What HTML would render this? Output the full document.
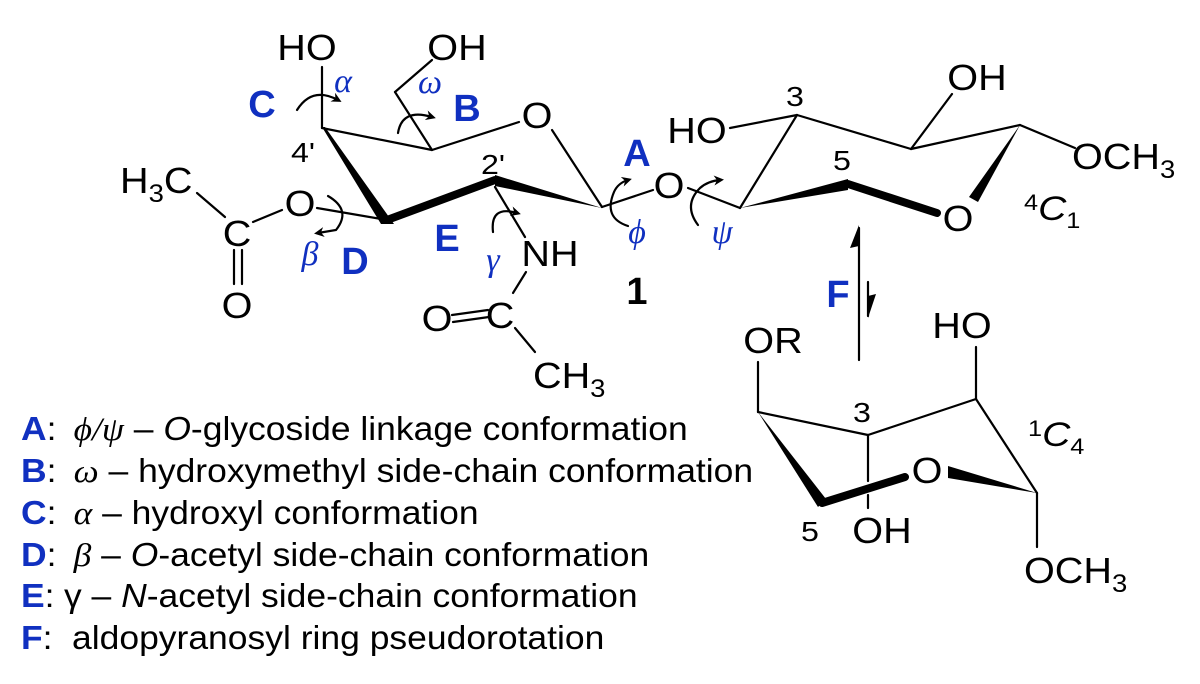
<!DOCTYPE html>
<html><head><meta charset="utf-8"><style>
html,body{margin:0;padding:0;background:#fff;}
svg{display:block;}
text{font-family:"Liberation Sans",sans-serif;fill:#000;}
.b{fill:#1030c0;font-weight:bold;}
.g{fill:#1030c0;font-family:"Liberation Serif",serif;font-style:italic;}
</style></head><body>
<svg width="1200" height="684" viewBox="0 0 1200 684" xmlns="http://www.w3.org/2000/svg">
<defs>
<marker id="ah" markerWidth="10" markerHeight="10" refX="6" refY="5" orient="auto" markerUnits="userSpaceOnUse">
<path d="M0,0 L10,5 L0,10 L3,5 Z" fill="#000"/></marker>
</defs>
<g stroke="#000" stroke-width="2.2" fill="none" stroke-linecap="round">
<line x1="322" y1="128" x2="322" y2="67"/>
<line x1="322" y1="128" x2="432" y2="150"/>
<line x1="432" y1="150" x2="519" y2="122"/>
<line x1="432" y1="150" x2="395" y2="92"/>
<line x1="395" y1="92" x2="432" y2="60"/>
<line x1="552" y1="130" x2="602" y2="207"/>
<line x1="387" y1="220" x2="317" y2="208"/>
<line x1="282" y1="210" x2="253" y2="222"/>
<line x1="197" y1="193" x2="225" y2="217"/>
<line x1="234" y1="250" x2="234" y2="284"/>
<line x1="242" y1="250" x2="242" y2="284"/>
<line x1="495" y1="187" x2="525" y2="237"/>
<line x1="526" y1="272" x2="513" y2="293"/>
<line x1="452" y1="315" x2="488" y2="310"/>
<line x1="453" y1="322" x2="489" y2="317"/>
<line x1="515" y1="328" x2="535" y2="352"/>
<line x1="602" y1="207" x2="653" y2="190"/>
<line x1="688" y1="188" x2="740" y2="208"/>
<line x1="740" y1="208" x2="797" y2="115"/>
<line x1="730" y1="128" x2="797" y2="115"/>
<line x1="797" y1="115" x2="911" y2="149"/>
<line x1="911" y1="149" x2="952" y2="94"/>
<line x1="911" y1="149" x2="1020" y2="125"/>
<line x1="1020" y1="125" x2="1075" y2="148"/>
<line x1="859" y1="228" x2="859" y2="360"/>
<line x1="868" y1="282" x2="868" y2="316"/>
<line x1="758" y1="412" x2="758" y2="362"/>
<line x1="758" y1="412" x2="868" y2="435"/>
<line x1="868" y1="435" x2="976" y2="399"/>
<line x1="976" y1="399" x2="976" y2="347"/>
<line x1="976" y1="399" x2="1037" y2="493"/>
<line x1="1037" y1="493" x2="1037" y2="547"/>
<line x1="868" y1="435" x2="868" y2="481"/>
<line x1="868" y1="495" x2="868" y2="508"/>
<path d="M297,110 Q312,86 338,100" marker-end="url(#ah)"/>
<path d="M398,133 Q402,108 432,117" marker-end="url(#ah)"/>
<path d="M328,196 Q352,210 336,230 L318,233" marker-end="url(#ah)"/>
<path d="M493,232 Q490,205 517,213" marker-end="url(#ah)"/>
<path d="M628,226 Q603,218 614,192 Q618,183 628,180" marker-end="url(#ah)"/>
<path d="M698,225 Q683,205 700,188 Q708,181 720,180" marker-end="url(#ah)"/>
</g>
<g fill="#000">
<polygon points="322,127 325,127 394,224 381,224"/>
<line x1="387" y1="220" x2="495" y2="180" stroke="#000" stroke-width="8" stroke-linecap="round"/>
<polygon points="495,175 495,186 602,208"/>
<polygon points="740,208 848,179 848,190"/>
<line x1="848" y1="184" x2="937" y2="213" stroke="#000" stroke-width="8" stroke-linecap="round"/>
<polygon points="1020,125 969,197 978,202"/>
<polygon points="758,412 818,507 826,499"/>
<line x1="822" y1="503" x2="905" y2="477" stroke="#000" stroke-width="8" stroke-linecap="round"/>
<polygon points="948,466 948,478 1037,493"/>
<polygon points="859,225 859,246 850,248"/>
<polygon points="868,318 868,296 876,294"/>
</g>
<g font-size="36">
<text transform="translate(307,60) scale(1.1,1)" text-anchor="middle">HO</text>
<text transform="translate(457,60) scale(1.1,1)" text-anchor="middle">OH</text>
<text transform="translate(537,128) scale(1.1,1)" text-anchor="middle">O</text>
<text transform="translate(300,216) scale(1.1,1)" text-anchor="middle">O</text>
<text transform="translate(237,246) scale(1.1,1)" text-anchor="middle">C</text>
<text transform="translate(237,318) scale(1.1,1)" text-anchor="middle">O</text>
<text transform="translate(120,193) scale(1.1,1)">H<tspan font-size="25" dy="9">3</tspan><tspan dy="-9">C</tspan></text>
<text transform="translate(550,266) scale(1.1,1)" text-anchor="middle">NH</text>
<text transform="translate(500,328) scale(1.1,1)" text-anchor="middle">C</text>
<text transform="translate(437,331) scale(1.1,1)" text-anchor="middle">O</text>
<text transform="translate(533,388) scale(1.1,1)">CH<tspan font-size="25" dy="9">3</tspan></text>
<text transform="translate(669,198) scale(1.1,1)" text-anchor="middle">O</text>
<text transform="translate(697,143) scale(1.1,1)" text-anchor="middle">HO</text>
<text transform="translate(977,90) scale(1.1,1)" text-anchor="middle">OH</text>
<text transform="translate(1072,169) scale(1.1,1)">OCH<tspan font-size="25" dy="9">3</tspan></text>
<text transform="translate(958,231) scale(1.1,1)" text-anchor="middle">O</text>
<text transform="translate(773,353) scale(1.1,1)" text-anchor="middle">OR</text>
<text transform="translate(962,338) scale(1.1,1)" text-anchor="middle">HO</text>
<text transform="translate(927,483) scale(1.1,1)" text-anchor="middle">O</text>
<text transform="translate(882,543) scale(1.1,1)" text-anchor="middle">OH</text>
<text transform="translate(1024,583) scale(1.1,1)">OCH<tspan font-size="25" dy="9">3</tspan></text>
</g>
<g font-size="28">
<text transform="translate(303,162) scale(1.15,1)" text-anchor="middle">4'</text>
<text transform="translate(493,174) scale(1.15,1)" text-anchor="middle">2'</text>
<text transform="translate(795,106) scale(1.15,1)" text-anchor="middle">3</text>
<text transform="translate(842,170) scale(1.15,1)" text-anchor="middle">5</text>
<text transform="translate(862,422) scale(1.15,1)" text-anchor="middle">3</text>
<text transform="translate(810,541) scale(1.15,1)" text-anchor="middle">5</text>
<text transform="translate(1024,220) scale(1.15,1)"><tspan font-size="22" dy="-10">4</tspan><tspan font-size="34" font-style="italic" dy="10">C</tspan><tspan font-size="22" dy="8">1</tspan></text>
<text transform="translate(1028,446) scale(1.15,1)"><tspan font-size="22" dy="-10">1</tspan><tspan font-size="34" font-style="italic" dy="10">C</tspan><tspan font-size="22" dy="8">4</tspan></text>
</g>
<text x="637" y="304" font-size="38" font-weight="bold" text-anchor="middle">1</text>
<g font-size="38">
<text class="b" x="262" y="117" text-anchor="middle">C</text>
<text class="b" x="467" y="121" text-anchor="middle">B</text>
<text class="b" x="355" y="274" text-anchor="middle">D</text>
<text class="b" x="447" y="251" text-anchor="middle">E</text>
<text class="b" x="637" y="166" text-anchor="middle">A</text>
<text class="b" x="838" y="307" text-anchor="middle">F</text>
</g>
<g font-size="34">
<text class="g" x="343" y="92" text-anchor="middle">α</text>
<text class="g" x="430" y="93" text-anchor="middle">ω</text>
<text class="g" x="310" y="265" text-anchor="middle">β</text>
<text class="g" x="493" y="271" text-anchor="middle">γ</text>
<text class="g" x="637" y="243" text-anchor="middle">ϕ</text>
<text class="g" x="722" y="243" text-anchor="middle">ψ</text>
</g>
<g font-size="33" transform="scale(1.075,1)">
<text x="19.5" y="440"><tspan class="b">A</tspan>:  <tspan x="68.5" font-family="Liberation Serif" font-style="italic">ϕ/ψ</tspan> – <tspan font-style="italic">O</tspan>-glycoside linkage conformation</text>
<text x="19.5" y="482"><tspan class="b">B</tspan>:  <tspan x="68.5" font-family="Liberation Serif" font-style="italic">ω</tspan> – hydroxymethyl side-chain conformation</text>
<text x="19.5" y="524"><tspan class="b">C</tspan>:  <tspan x="68.5" font-family="Liberation Serif" font-style="italic">α</tspan> – hydroxyl conformation</text>
<text x="19.5" y="566"><tspan class="b">D</tspan>:  <tspan x="68.5" font-family="Liberation Serif" font-style="italic">β</tspan> – <tspan font-style="italic">O</tspan>-acetyl side-chain conformation</text>
<text x="19.5" y="607"><tspan class="b">E</tspan>: <tspan x="59.5">γ</tspan> – <tspan font-style="italic">N</tspan>-acetyl side-chain conformation</text>
<text x="19.5" y="649"><tspan class="b">F</tspan>:  <tspan x="67">aldopyranosyl ring pseudorotation</tspan></text>
</g>
</svg>
</body></html>
